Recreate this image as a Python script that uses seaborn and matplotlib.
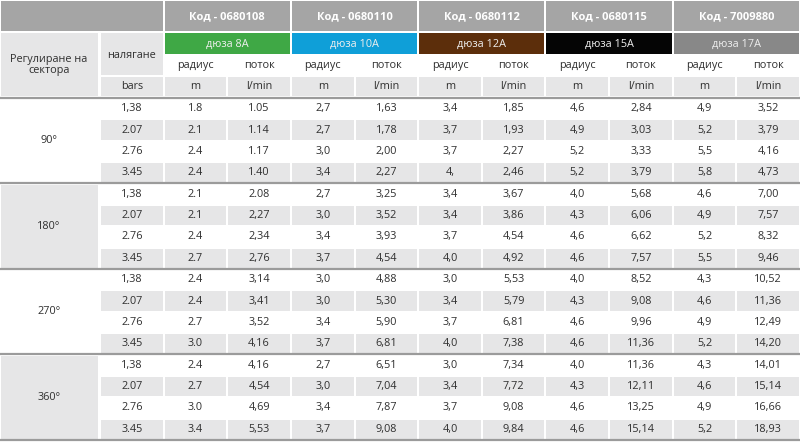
import matplotlib
matplotlib.use("Agg")
import matplotlib.pyplot as plt
from matplotlib.colors import ListedColormap
from matplotlib.patches import Rectangle
import numpy as np
import pandas as pd
import seaborn as sns

# ---------------- data ----------------
codes = ["Код - 0680108", "Код - 0680110", "Код - 0680112", "Код - 0680115", "Код - 7009880"]
nozzles = ["дюза 8A", "дюза 10A", "дюза 12A", "дюза 15A", "дюза 17A"]
nozzle_colors = ["#3fa845", "#0f9fd8", "#5c2e0b", "#050505", "#888888"]
sectors = ["90°", "180°", "270°", "360°"]
sub_headers = ["радиус", "поток"]
units = ["m", "l/min"]

pressure = ["1,38", "2.07", "2.76", "3.45", "1,38", "2.07", "2.76", "3.45",
            "1,38", "2.07", "2.76", "3.45", "1,38", "2.07", "2.76", "3.45"]

r8 = ["1.8", "2.1", "2.4", "2.4", "2.1", "2.1", "2.4", "2.7",
      "2.4", "2.4", "2.7", "3.0", "2.4", "2.7", "3.0", "3.4"]
f8 = ["1.05", "1.14", "1.17", "1.40", "2.08", "2,27", "2,34", "2,76",
      "3,14", "3,41", "3,52", "4,16", "4,16", "4,54", "4,69", "5,53"]
r10 = ["2,7", "2,7", "3,0", "3,4", "2,7", "3,0", "3,4", "3,7",
       "3,0", "3,0", "3,4", "3,7", "2,7", "3,0", "3,4", "3,7"]
f10 = ["1,63", "1,78", "2,00", "2,27", "3,25", "3,52", "3,93", "4,54",
       "4,88", "5,30", "5,90", "6,81", "6,51", "7,04", "7,87", "9,08"]
r12 = ["3,4", "3,7", "3,7", "4,", "3,4", "3,4", "3,7", "4,0",
       "3,0", "3,4", "3,7", "4,0", "3,0", "3,4", "3,7", "4,0"]
f12 = ["1,85", "1,93", "2,27", "2,46", "3,67", "3,86", "4,54", "4,92",
       "5,53", "5,79", "6,81", "7,38", "7,34", "7,72", "9,08", "9,84"]
r15 = ["4,6", "4,9", "5,2", "5,2", "4,0", "4,3", "4,6", "4,6",
       "4,0", "4,3", "4,6", "4,6", "4,0", "4,3", "4,6", "4,6"]
f15 = ["2,84", "3,03", "3,33", "3,79", "5,68", "6,06", "6,62", "7,57",
       "8,52", "9,08", "9,96", "11,36", "11,36", "12,11", "13,25", "15,14"]
r17 = ["4,9", "5,2", "5,5", "5,8", "4,6", "4,9", "5,2", "5,5",
       "4,3", "4,6", "4,9", "5,2", "4,3", "4,6", "4,9", "5,2"]
f17 = ["3,52", "3,79", "4,16", "4,73", "7,00", "7,57", "8,32", "9,46",
       "10,52", "11,36", "12,49", "14,20", "14,01", "15,14", "16,66", "18,93"]

# ---------------- style ----------------
sns.set_theme(style="white")
FONT = ["Open Sans", "DejaVu Sans"]
plt.rcParams["font.family"] = FONT

HDR = "#a5a5a5"
LIGHT = "#e6e6e7"
TXT = "#2f2f2f"
SEP = "#9b9b9b"
FS = 7.8

W, H = 800, 443
fig = plt.figure(figsize=(W / 100, H / 100), dpi=100)
fig.patch.set_facecolor("white")

# base axes in pixel coordinates (headers and sector column)
ax0 = fig.add_axes([0, 0, 1, 1])
ax0.set_xlim(0, W)
ax0.set_ylim(H, 0)
ax0.axis("off")

table = pd.DataFrame({
    "p": pressure,
    "r8": r8, "f8": f8, "r10": r10, "f10": f10, "r12": r12,
    "f12": f12, "r15": r15, "f15": f15, "r17": r17, "f17": f17,
})
n_rows, n_cols = table.shape

x_left, x_right = 100, W
y_top, y_bot = 98, 440
col_w = (x_right - x_left) / n_cols
row_h = (y_bot - y_top) / n_rows
edges = [x_left + i * col_w for i in range(n_cols + 1)]
gap = 1.0


def cell(x0, y0, x1, y1, color):
    ax0.add_patch(Rectangle((x0 + gap, y0 + gap), x1 - x0 - 2 * gap, y1 - y0 - 2 * gap,
                            facecolor=color, edgecolor="none"))


# row A: codes
cell(0, 0, edges[1], 32, HDR)
for i, c in enumerate(codes):
    x0, x1 = edges[1 + 2 * i], edges[3 + 2 * i]
    cell(x0, 0, x1, 32, HDR)
    ax0.text((x0 + x1) / 2, 16.5, c, ha="center", va="center", color="white",
             fontsize=FS + 0.2, fontweight="bold")

# left header cells
cell(0, 32, 99, 97, LIGHT)
ax0.text(49, 65, "Регулиране на\nсектора", ha="center", va="center", color=TXT,
         fontsize=FS, linespacing=1.1)
cell(edges[0], 32, edges[1], 76, LIGHT)
ax0.text((edges[0] + edges[1]) / 2, 55, "налягане", ha="center", va="center",
         color=TXT, fontsize=FS)
cell(edges[0], 76, edges[1], 97, LIGHT)
ax0.text((edges[0] + edges[1]) / 2, 86.5, "bars", ha="center", va="center",
         color=TXT, fontsize=FS)

# row B: nozzles, row C: sub headers, row D: units
for i, (nz, nc) in enumerate(zip(nozzles, nozzle_colors)):
    x0, x1 = edges[1 + 2 * i], edges[3 + 2 * i]
    cell(x0, 32, x1, 55, nc)
    ax0.text((x0 + x1) / 2, 44, nz, ha="center", va="center",
             color="#eeeeee", fontsize=FS)
    for j in range(2):
        cx0, cx1 = edges[1 + 2 * i + j], edges[2 + 2 * i + j]
        ax0.text((cx0 + cx1) / 2, 65.5, sub_headers[j], ha="center", va="center",
                 color=TXT, fontsize=FS)
        cell(cx0, 76, cx1, 97, LIGHT)
        ax0.text((cx0 + cx1) / 2, 86.5, units[j], ha="center", va="center",
                 color=TXT, fontsize=FS)

# sector column
grp_h = 4 * row_h
for g, s in enumerate(sectors):
    y0 = y_top + g * grp_h
    cell(0, y0, 99, y0 + grp_h, LIGHT if g % 2 else "white")
    ax0.text(49, y0 + grp_h / 2, s, ha="center", va="center", color=TXT, fontsize=FS)

# data grid via seaborn heatmap
ax1 = fig.add_axes([x_left / W, (H - y_bot) / H, (x_right - x_left) / W, (y_bot - y_top) / H])
stripe = np.array([[r % 2] * n_cols for r in range(n_rows)])
sns.heatmap(stripe, ax=ax1, cmap=ListedColormap(["#ffffff", LIGHT]), vmin=0, vmax=1,
            cbar=False, annot=table.values, fmt="", linewidths=1.4, linecolor="white",
            annot_kws=dict(color=TXT, fontsize=FS, family=FONT),
            xticklabels=False, yticklabels=False)
ax1.set_axis_off()

# group separator lines
ax2 = fig.add_axes([0, 0, 1, 1])
ax2.set_xlim(0, W)
ax2.set_ylim(H, 0)
ax2.axis("off")
ax2.patch.set_alpha(0)
for g in range(len(sectors) + 1):
    y = y_top + g * grp_h - 0.5
    ax2.axhline(y, color=SEP, lw=1.6)

fig.savefig("out.png", dpi=100, facecolor="white")
